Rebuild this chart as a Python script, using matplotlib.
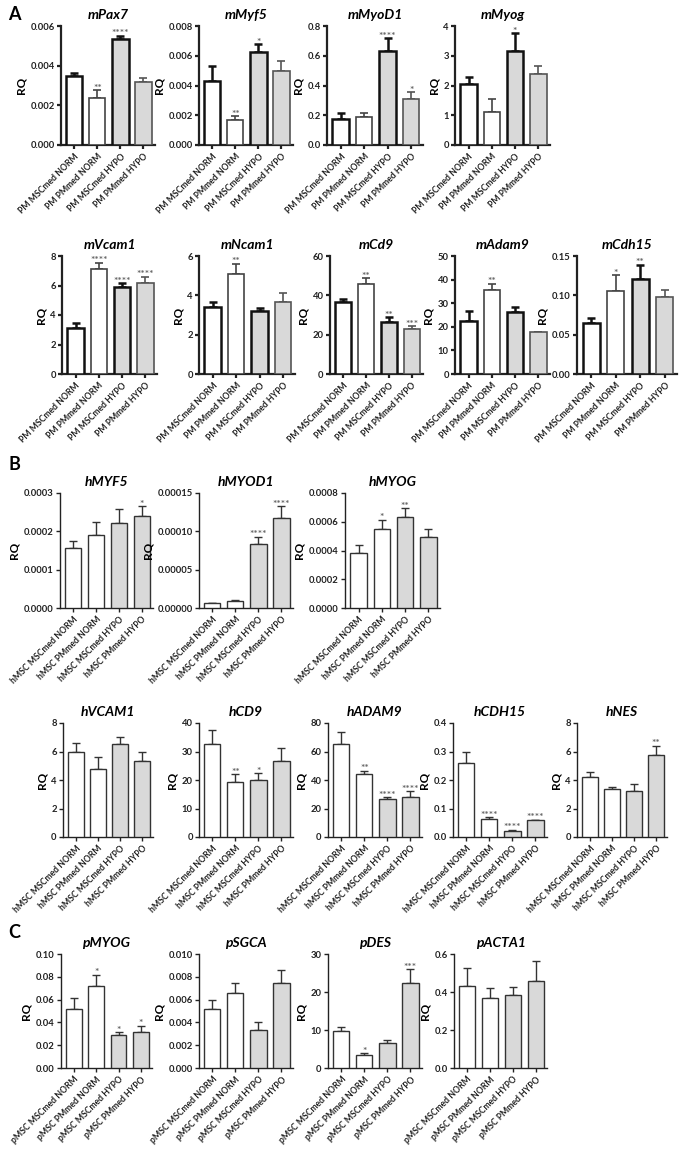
import numpy as np
import matplotlib.pyplot as plt

plt.rcParams['font.family'] = ['Lato', 'DejaVu Sans']
plt.rcParams['font.weight'] = 'bold'

conds = ['MSCmed NORM', 'PMmed NORM', 'MSCmed HYPO', 'PMmed HYPO']

# panel A: mouse genes
genes_a = ['mPax7', 'mMyf5', 'mMyoD1', 'mMyog', 'mVcam1', 'mNcam1', 'mCd9', 'mAdam9', 'mCdh15']
mean_a = [[0.00348, 0.00239, 0.00533, 0.00316],
          [0.0043, 0.00168, 0.00628, 0.0050],
          [0.176, 0.187, 0.63, 0.311],
          [2.06, 1.12, 3.15, 2.37],
          [3.12, 7.1, 5.93, 6.16],
          [3.43, 5.11, 3.21, 3.66],
          [36.8, 45.9, 26.5, 23.0],
          [22.5, 35.5, 26.3, 17.7],
          [0.0642, 0.1056, 0.1208, 0.098]]
top_a = [[0.00365, 0.00277, 0.00551, 0.00336],
         [0.00534, 0.00195, 0.00677, 0.00565],
         [0.214, 0.218, 0.716, 0.358],
         [2.28, 1.53, 3.75, 2.64],
         [3.44, 7.55, 6.16, 6.6],
         [3.66, 5.61, 3.34, 4.1],
         [38.0, 48.6, 28.9, 24.5],
         [26.5, 38.3, 28.2, 18.0],
         [0.071, 0.1255, 0.139, 0.107]]
stars_a = [['', '**', '****', ''],
           ['', '**', '*', ''],
           ['', '', '****', '*'],
           ['', '', '*', ''],
           ['', '****', '****', '****'],
           ['', '**', '', ''],
           ['', '**', '**', '***'],
           ['', '**', '', ''],
           ['', '*', '**', '']]
ymax_a = [0.006, 0.008, 0.8, 4, 8, 6, 60, 50, 0.15]
ystep_a = [0.002, 0.002, 0.2, 1, 2, 2, 20, 10, 0.05]

# panel B: human genes
genes_b = ['hMYF5', 'hMYOD1', 'hMYOG', 'hVCAM1', 'hCD9', 'hADAM9', 'hCDH15', 'hNES']
mean_b = [[0.0001565, 0.00019, 0.000222, 0.00024],
          [0.000006, 0.0000096, 0.000084, 0.000117],
          [0.000381, 0.000547, 0.000632, 0.000491],
          [5.98, 4.77, 6.53, 5.33],
          [32.8, 19.4, 20.0, 26.6],
          [65.2, 44.5, 27.0, 27.8],
          [0.26, 0.063, 0.022, 0.058],
          [4.19, 3.35, 3.2, 5.78]]
top_b = [[0.000175, 0.000224, 0.000257, 0.000265],
         [0.000007, 0.0000101, 0.000093, 0.000133],
         [0.00044, 0.000615, 0.000697, 0.000547],
         [6.6, 5.63, 7.0, 6.0],
         [37.6, 22.1, 22.4, 31.4],
         [73.9, 46.6, 28.0, 32.2],
         [0.297, 0.070, 0.026, 0.061],
         [4.54, 3.53, 3.74, 6.41]]
stars_b = [['', '', '', '*'],
           ['', '', '****', '****'],
           ['', '*', '**', ''],
           ['', '', '', ''],
           ['', '**', '*', ''],
           ['', '**', '****', '****'],
           ['', '****', '****', '****'],
           ['', '', '', '**']]
ymax_b = [0.0003, 0.00015, 0.0008, 8, 40, 80, 0.4, 8]
ystep_b = [0.0001, 0.00005, 0.0002, 2, 10, 20, 0.1, 2]

# panel C: pig genes
genes_c = ['pMYOG', 'pSGCA', 'pDES', 'pACTA1']
mean_c = [[0.0515, 0.0716, 0.029, 0.0319],
          [0.00515, 0.00655, 0.0033, 0.00746],
          [9.65, 3.5, 6.6, 22.4],
          [0.432, 0.368, 0.386, 0.456]]
top_c = [[0.061, 0.0819, 0.0313, 0.0371],
         [0.00596, 0.00749, 0.00406, 0.0086],
         [10.9, 4.0, 7.3, 26.1],
         [0.526, 0.42, 0.428, 0.565]]
stars_c = [['', '*', '*', '*'],
           ['', '', '', ''],
           ['', '*', '', '***'],
           ['', '', '', '']]
ymax_c = [0.10, 0.010, 30, 0.6]
ystep_c = [0.02, 0.002, 10, 0.2]

W, H = 685, 1151
fig = plt.figure(figsize=(W / 100, H / 100), dpi=100)

# axes boxes in pixels: (left, top, right, bottom)
boxes_a = [(61, 26, 155, 145), (199, 26, 293, 145), (327, 26, 423, 145), (455, 26, 550, 145),
           (62, 256, 157, 374), (199, 256, 295, 374), (330, 256, 423, 374),
           (455, 256, 550, 374), (577, 256, 677, 374)]
boxes_b = [(60, 493, 153, 608), (199, 493, 293, 608), (345, 493, 440, 608),
           (63, 723, 153, 837), (199, 723, 293, 837), (328, 723, 422, 837),
           (453, 723, 547, 837), (577, 723, 667, 837)]
boxes_c = [(61, 954, 152, 1068), (199, 954, 293, 1068), (328, 954, 422, 1068),
           (454, 954, 547, 1068)]


def panel(box, gene, means, tops, stars, ymax, ystep, prefix, heavy):
    l, t, r, b = box
    ax = fig.add_axes([l / W, 1 - b / H, (r - l) / W, (b - t) / H])
    x = np.arange(4)
    means = np.array(means)
    err = np.array(tops) - means
    if heavy:
        ecs = ['#111111', '#444444', '#111111', '#555555']
        lws = [1.8, 1.2, 1.8, 1.2]
        spw = 1.6
    else:
        ecs = ['#333333'] * 4
        lws = [1.0] * 4
        spw = 1.0
    fcs = ['white', 'white', '#d9d9d9', '#d9d9d9']
    for i in range(4):
        ax.errorbar(x[i], means[i], yerr=[[0], [err[i]]], fmt='none', ecolor=ecs[i],
                    elinewidth=lws[i], capsize=3.2, capthick=lws[i], zorder=2)
        ax.bar(x[i], means[i], width=0.7, color=fcs[i], edgecolor=ecs[i],
               linewidth=lws[i], zorder=3)
        if stars[i]:
            ax.annotate(stars[i], (x[i], tops[i]), xytext=(0, -2), textcoords='offset points',
                        ha='center', va='bottom', fontsize=7.5, color='#666666')
    ax.set_xlim(-0.58, 3.5)
    ax.set_ylim(0, ymax)
    ticks = np.arange(0, ymax + ystep / 2, ystep)
    dec = max(0, int(np.ceil(-np.log10(ystep) - 1e-9)))
    ax.set_yticks(ticks)
    ax.set_yticklabels([f'{v:.{dec}f}' for v in ticks], fontsize=6.8, fontweight='bold',
                       color='#222222')
    ax.set_xticks(x)
    ax.set_xticklabels([prefix + c for c in conds], rotation=45, ha='right',
                       rotation_mode='anchor', fontsize=6.2, fontweight='bold', color='#222222')
    ax.tick_params(axis='y', width=spw, length=3, pad=1.5, color='#222222')
    ax.tick_params(axis='x', width=spw, length=3, pad=2, color='#222222')
    for s in ['top', 'right']:
        ax.spines[s].set_visible(False)
    for s in ['left', 'bottom']:
        ax.spines[s].set_linewidth(spw)
        ax.spines[s].set_color('#222222')
    ax.set_ylabel('RQ', fontsize=8.5, fontweight='bold', labelpad=3)
    ax.set_title(gene, fontsize=10, fontstyle='italic', fontweight='bold', pad=5)
    return ax


for i, g in enumerate(genes_a):
    panel(boxes_a[i], g, mean_a[i], top_a[i], stars_a[i], ymax_a[i], ystep_a[i], 'PM ', True)
for i, g in enumerate(genes_b):
    panel(boxes_b[i], g, mean_b[i], top_b[i], stars_b[i], ymax_b[i], ystep_b[i], 'hMSC ', False)
for i, g in enumerate(genes_c):
    panel(boxes_c[i], g, mean_c[i], top_c[i], stars_c[i], ymax_c[i], ystep_c[i], 'pMSC ', False)

fig.text(8 / W, 1 - 15 / H, 'A', fontsize=13, fontweight='bold', va='center')
fig.text(8 / W, 1 - 465 / H, 'B', fontsize=13, fontweight='bold', va='center')
fig.text(8 / W, 1 - 932 / H, 'C', fontsize=13, fontweight='bold', va='center')

fig.savefig('out.png', dpi=100)
